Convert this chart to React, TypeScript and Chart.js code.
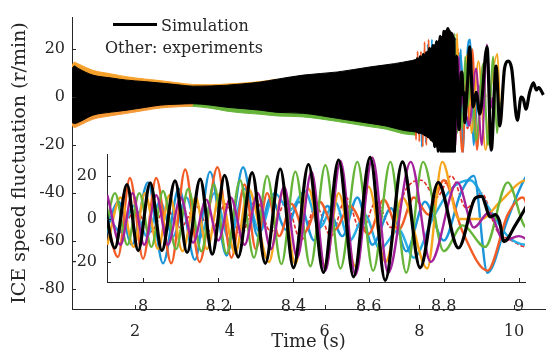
import React, { useEffect, useRef } from "react";
import { Chart, registerables } from "chart.js";
Chart.register(...registerables);

const FONT = "'DejaVu Serif', 'Liberation Serif', serif";
const AXIS_COLOR = "#262626";

// ---- tick labels ----
const MAIN_X_TICKS = [2, 4, 6, 8, 10];
const MAIN_Y_TICKS = [20, 0, -20, -40, -60, -80];
const INSET_X_TICKS = [8, 8.2, 8.4, 8.6, 8.8, 9];
const INSET_Y_TICKS = [20, 0, -20];

// ---- axis ranges ----
const MAIN_X_MIN = 0.67, MAIN_X_MAX = 10.654;
const MAIN_Y_MIN = -88.2, MAIN_Y_MAX = 33.4;
const INSET_X_MIN = 7.904, INSET_X_MAX = 9.016;
const INSET_Y_MIN = -29.3, INSET_Y_MAX = 29.9;

// ---- texts ----
const LEGEND_SIM = "Simulation";
const LEGEND_EXP = "Other: experiments";
const X_TITLE = "Time (s)";
const Y_TITLE = "ICE speed fluctuation (r/min)";

// ---- simulation (black) ----
const simT = [7.890, 7.925, 7.957, 7.987, 8.019, 8.050, 8.085, 8.117, 8.152, 8.184, 8.217, 8.253, 8.290, 8.325, 8.365, 8.400, 8.440, 8.480, 8.520, 8.560, 8.604, 8.644, 8.690, 8.737, 8.785, 8.839, 8.884, 8.900, 8.924, 8.937, 8.948, 8.960, 8.990, 9.022, 9.06, 9.14, 9.20, 9.28, 9.43, 9.52, 9.62, 9.70, 9.80, 9.88, 9.95, 10.07, 10.15, 10.20, 10.25, 10.33, 10.41, 10.47, 10.52, 10.62];
const simV = [15, -13.5, 16, -14.7, 16.8, -14.7, 17.7, -15.6, 18.5, -16.4, 20.2, -17.7, 21.5, -20.6, 23.2, -22.7, 25.3, -24.8, 27.4, -26.9, 28.6, -28.5, 26.5, -22.7, 17, -13.5, 9.7, 10.5, 1, 2, -1, -10.5, -3, 6.7, 21, -4, 2, -7, 21, -22, 13, -12, 12, 15, 12, -9.6, 0, -1, -5, 2, 6, 3, 4, 1];

// dense part of the simulation, read as its envelope
const envT = [0.67, 0.72, 0.80, 1.11, 1.50, 1.83, 2.20, 2.53, 2.90, 3.22, 3.60, 3.94, 4.30, 4.64, 5.00, 5.55, 6.27, 6.96, 7.30, 7.66, 8.02, 8.20, 8.38, 8.50, 8.60, 8.66, 8.72, 8.77];
const envUp = [12, 13, 12, 9.2, 8, 7.1, 6.5, 5.9, 5.2, 4.6, 4.7, 5.0, 5.6, 6.3, 7.5, 9.2, 10.5, 12.6, 13.5, 14.6, 16.5, 19.5, 23, 26, 28.6, 27.5, 25.5, 24];
const envLo = [-10.5, -11, -10.5, -7.5, -6.2, -5.4, -4.3, -3.3, -2.9, -2.7, -3.3, -4.2, -4.8, -5.4, -6.3, -6.7, -8.8, -10.9, -12, -13.8, -15, -17, -21, -24, -27, -28, -25, -22];

// experiments, dense part envelope fringes
const fringeUpT = [0.67, 0.72, 0.80, 1.11, 1.50, 1.83, 2.20, 2.53, 2.90, 3.22, 3.60, 3.94, 4.30, 4.64, 5.00];
const fringeUpV = [13.2, 14.6, 13.9, 11.2, 9.7, 8.5, 7.6, 6.9, 6.0, 5.3, 5.2, 5.5, 5.9, 6.5, 7.5];
const fringeLoAT = [0.67, 0.72, 0.80, 1.11, 1.50, 1.83, 2.20, 2.53, 2.90, 3.22];
const fringeLoAV = [-11.8, -12.6, -12, -9.2, -7.7, -6.7, -5.5, -4.5, -4.0, -3.7];
const fringeLoBT = [2.90, 3.22, 3.60, 3.94, 4.30, 4.64, 5.00, 5.55, 6.27, 6.96, 7.30, 7.66, 7.95];
const fringeLoBV = [-3.4, -3.8, -4.6, -5.8, -6.6, -7.1, -7.8, -8.2, -10.1, -12.3, -13.3, -15.2, -15.8];

// ---- experiments (coloured) ----
const greenT = [7.895, 7.925, 7.958, 7.990, 8.022, 8.053, 8.088, 8.120, 8.155, 8.188, 8.222, 8.258, 8.295, 8.330, 8.368, 8.405, 8.445, 8.485, 8.525, 8.570, 8.612, 8.658, 8.700, 8.745, 8.800, 8.850, 8.910, 8.970, 9.020, 9.10, 9.20, 9.35, 9.45, 9.56, 9.64, 9.70];
const greenV = [-11, 12, -12, 12, -13, 13, -14, 14, -15, 16, -16, 18, -18, 20, -21, 22, -22, 25, -23, 26.5, -24, 26.5, -25, 26.5, -15, -3, -13, 17, -4, 10, -18, 14, -20, 17, -15, -2];

const purpleT = [7.905, 7.940, 7.972, 8.003, 8.035, 8.066, 8.100, 8.133, 8.168, 8.200, 8.233, 8.270, 8.305, 8.340, 8.375, 8.410, 8.448, 8.485, 8.525, 8.565, 8.610, 8.652, 8.712, 8.765, 8.836, 8.880, 8.920, 8.960, 9.000, 9.05, 9.20, 9.32, 9.43, 9.50, 9.55];
const purpleV = [11, -12, 12, -12, 11, -12, 10, -11, 9, -10, 10, -12, 12, -14, 15, -18, 22, -24, 27, -26, 28.5, -25, 26.5, -20, 17, -4, 3, -10, -8, -12, 12, -20, 22, -5, 0];

const orangeT = [7.898, 7.933, 7.965, 8.000, 8.035, 8.075, 8.112, 8.150, 8.198, 8.235, 8.270, 8.300, 8.330, 8.362, 8.395, 8.430, 8.470, 8.510, 8.550, 8.600, 8.640, 8.680, 8.720, 8.760, 8.800, 8.850, 8.916, 8.970, 9.010, 9.05, 9.12, 9.22, 9.32, 9.40];
const orangeV = [5, -17.7, 19, -18.5, 19, -20.6, 23, -20, 24, -18, 16, -14, 12, -8, 7, -6, 8, -5, 6, -7, 9, -5, 10, 2, 18, -6, -24, 2, 10, -10, 20, -22, 10, 0];

const blueT = [7.895, 7.935, 7.970, 8.013, 8.053, 8.095, 8.138, 8.178, 8.222, 8.266, 8.305, 8.340, 8.380, 8.415, 8.455, 8.490, 8.530, 8.570, 8.610, 8.660, 8.700, 8.750, 8.800, 8.845, 8.880, 8.916, 8.970, 9.020, 9.07, 9.15, 9.25, 9.30];
const blueV = [-10, 8, -12, 17, -20.6, 14, -19, 22, -17, 24, -8, 10, -5, 8, -10, 6, -8, 10, -12, 5, -15, 8, -10, 12, 20, -25, 0, 20, 24, -20, 5, 0];

const skyT = [7.900, 7.940, 7.975, 8.010, 8.045, 8.080, 8.115, 8.150, 8.190, 8.230, 8.270, 8.310, 8.350, 8.390, 8.430, 8.470, 8.510, 8.550, 8.590, 8.630, 8.680, 8.720, 8.770, 8.820, 8.870, 8.920, 8.970, 9.020, 9.10, 9.20];
const skyV = [4, -6, 6, -8, 8, -8, 10, -9, 12, -10, 14, -6, 12, 4, 13, -4, 8, -10, 2, -14, -5, -18, 0, 14, 18, 5, -8, -12, 5, 0];

const yellowT = [7.905, 7.940, 7.975, 8.005, 8.040, 8.070, 8.105, 8.140, 8.170, 8.205, 8.245, 8.280, 8.335, 8.370, 8.405, 8.440, 8.485, 8.520, 8.565, 8.600, 8.645, 8.690, 8.756, 8.796, 8.840, 8.900, 8.950, 9.020, 9.10, 9.25, 9.40, 9.52, 9.65, 9.72, 9.76];
const yellowV = [-12, 10, -13, 12, -14, 11, -15, 10, -14, 12, -16, 14, -20, 12, -21, 14, -22, 12, -22, 15, -20, 10, -23, 26.5, 0, 0, 8, 18, -15, 15, -22, 5, 18, -10, 0];

const redT = [7.900, 7.940, 7.980, 8.020, 8.060, 8.100, 8.140, 8.180, 8.220, 8.260, 8.300, 8.340, 8.380, 8.420, 8.460, 8.500, 8.540, 8.580, 8.620, 8.660, 8.700, 8.740, 8.780, 8.820, 8.860, 8.900, 8.940, 8.980, 9.020, 9.10, 9.30];
const redV = [2, -5, 4, -6, 5, -4, 6, -6, 7, -8, 9, -6, 8, -10, 6, -8, 10, -6, 8, -4, 14, 18, 10, 20, 5, 12, -5, -10, -13, -5, 0];

const pts = (t: number[], v: number[]) => t.map((x, i) => ({ x, y: v[i] }));

function lineSets(w: number) {
  const base = { pointRadius: 0, cubicInterpolationMode: "monotone" as const, fill: false };
  return [
    { ...base, data: pts(simT, simV), borderColor: "#000000", borderWidth: 3.2, order: 0 },
    { ...base, data: pts(purpleT, purpleV), borderColor: "#a3229c", borderWidth: w, order: 1 },
    { ...base, data: pts(greenT, greenV), borderColor: "#66b53a", borderWidth: w, order: 2 },
    { ...base, data: pts(yellowT, yellowV), borderColor: "#f7a51d", borderWidth: w, order: 3 },
    { ...base, data: pts(orangeT, orangeV), borderColor: "#f25c26", borderWidth: w, order: 4 },
    { ...base, data: pts(blueT, blueV), borderColor: "#1b95d8", borderWidth: w, order: 5 },
    { ...base, data: pts(skyT, skyV), borderColor: "#2aaee6", borderWidth: w, order: 6 },
    { ...base, data: pts(redT, redV), borderColor: "#e42d27", borderWidth: 1.6, borderDash: [4, 2], order: 7 },
  ];
}

const inwardTicks = {
  id: "inwardTicks",
  afterDraw(chart: any) {
    const { ctx, chartArea, scales } = chart;
    ctx.save();
    ctx.strokeStyle = AXIS_COLOR;
    ctx.lineWidth = 1;
    scales.x.ticks.forEach((t: any) => {
      const px = Math.round(scales.x.getPixelForValue(t.value)) + 0.5;
      ctx.beginPath();
      ctx.moveTo(px, chartArea.bottom);
      ctx.lineTo(px, chartArea.bottom - 4);
      ctx.stroke();
    });
    scales.y.ticks.forEach((t: any) => {
      const py = Math.round(scales.y.getPixelForValue(t.value)) + 0.5;
      ctx.beginPath();
      ctx.moveTo(chartArea.left, py);
      ctx.lineTo(chartArea.left + 4, py);
      ctx.stroke();
    });
    ctx.restore();
  },
};

const mainText = {
  id: "mainText",
  afterDraw(chart: any) {
    const { ctx, chartArea } = chart;
    ctx.save();
    ctx.fillStyle = AXIS_COLOR;
    ctx.strokeStyle = "#000";
    ctx.lineWidth = 3;
    ctx.beginPath();
    ctx.moveTo(113, 24.5);
    ctx.lineTo(157, 24.5);
    ctx.stroke();
    ctx.font = `16px ${FONT}`;
    ctx.textBaseline = "alphabetic";
    ctx.textAlign = "left";
    ctx.fillText(LEGEND_SIM, 161, 31);
    ctx.fillText(LEGEND_EXP, 105, 53);
    ctx.font = `18px ${FONT}`;
    ctx.textAlign = "center";
    ctx.textBaseline = "middle";
    ctx.fillText(X_TITLE, (chartArea.left + chartArea.right) / 2, 342);
    ctx.translate(20, (chartArea.top + chartArea.bottom) / 2);
    ctx.rotate(-Math.PI / 2);
    ctx.font = `19px ${FONT}`;
    ctx.fillText(Y_TITLE, 0, 0);
    ctx.restore();
  },
};

const insetBg = {
  id: "insetBg",
  beforeDraw(chart: any) {
    const { ctx, chartArea } = chart;
    ctx.save();
    ctx.fillStyle = "#ffffff";
    ctx.fillRect(chartArea.left, chartArea.top - 2, chartArea.right - chartArea.left + 3, chartArea.bottom - chartArea.top + 2);
    ctx.restore();
  },
};

function axis(min: number, max: number, ticks: number[], pad: number, size: number, horizontal: boolean) {
  return {
    type: "linear" as const,
    min,
    max,
    grid: { display: false, drawTicks: false },
    border: { display: true, color: AXIS_COLOR, width: 1 },
    afterBuildTicks: (s: any) => { s.ticks = ticks.map((v) => ({ value: v })); },
    afterFit: (s: any) => { if (horizontal) s.height = size; else s.width = size; },
    ticks: {
      padding: pad,
      color: AXIS_COLOR,
      font: { family: FONT, size: 16 },
      maxRotation: 0,
      autoSkip: false,
      callback: (v: any) => String(v),
    },
  };
}

export default function App() {
  const mainRef = useRef<HTMLCanvasElement>(null);
  const insetRef = useRef<HTMLCanvasElement>(null);

  useEffect(() => {
    document.body.style.margin = "0";
    const env = { borderColor: "#000", backgroundColor: "#000", borderWidth: 1, pointRadius: 0, cubicInterpolationMode: "monotone", order: 0.5 };
    const fr = { borderWidth: 1, pointRadius: 0, fill: "origin", cubicInterpolationMode: "monotone", order: 20 };
    const main = new Chart(mainRef.current!, {
      type: "line",
      data: {
        datasets: [
          ...lineSets(2),
          { ...env, data: pts(envT, envLo), fill: false },
          { ...env, data: pts(envT, envUp), fill: "-1" },
          { ...fr, data: pts(fringeUpT, fringeUpV), borderColor: "#f5a02a", backgroundColor: "#f5a02a" },
          { ...fr, data: pts(fringeLoAT, fringeLoAV), borderColor: "#f39a36", backgroundColor: "#f39a36" },
          { ...fr, data: pts(fringeLoBT, fringeLoBV), borderColor: "#66b53a", backgroundColor: "#66b53a" },
        ] as any,
      },
      options: {
        responsive: false,
        animation: false,
        devicePixelRatio: 1,
        layout: { padding: { left: 0, top: 17, right: 5, bottom: 0 } },
        plugins: { legend: { display: false }, tooltip: { enabled: false } },
        scales: {
          x: axis(MAIN_X_MIN, MAIN_X_MAX, MAIN_X_TICKS, 13, 55, true),
          y: axis(MAIN_Y_MIN, MAIN_Y_MAX, MAIN_Y_TICKS, 7, 72, false),
        },
      } as any,
      plugins: [inwardTicks, mainText],
    });
    const inset = new Chart(insetRef.current!, {
      type: "line",
      data: { datasets: lineSets(2.4) as any },
      options: {
        responsive: false,
        animation: false,
        devicePixelRatio: 1,
        layout: { padding: { left: 0, top: 7, right: 15, bottom: 0 } },
        plugins: { legend: { display: false }, tooltip: { enabled: false } },
        scales: {
          x: axis(INSET_X_MIN, INSET_X_MAX, INSET_X_TICKS, 15, 33, true),
          y: axis(INSET_Y_MIN, INSET_Y_MAX, INSET_Y_TICKS, 10, 47, false),
        },
      } as any,
      plugins: [insetBg, inwardTicks],
    });
    return () => {
      main.destroy();
      inset.destroy();
    };
  }, []);

  return (
    <div style={{ position: "relative", width: 550, height: 364, overflow: "hidden", background: "#fff" }}>
      <canvas ref={mainRef} width={550} height={364} style={{ position: "absolute", left: 0, top: 0 }} />
      <canvas ref={insetRef} width={480} height={180} style={{ position: "absolute", left: 60, top: 135 }} />
    </div>
  );
}
